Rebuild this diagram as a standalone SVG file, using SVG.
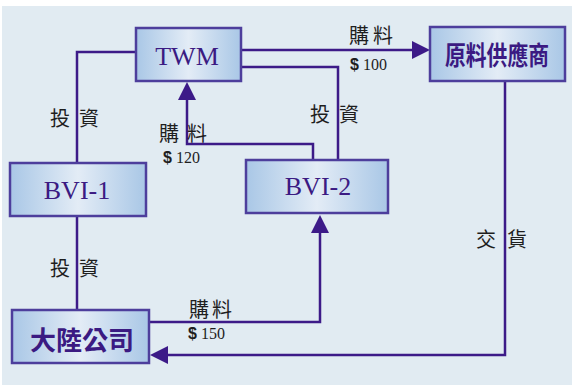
<svg xmlns="http://www.w3.org/2000/svg" width="574" height="386" viewBox="0 0 574 386">
<defs>
<linearGradient id="boxfill" x1="0" y1="0" x2="1" y2="0">
<stop offset="0" stop-color="#a9c7e6"/>
<stop offset="0.5" stop-color="#e3ecf6"/>
<stop offset="1" stop-color="#a9c7e6"/>
</linearGradient>
<marker id="arr" viewBox="0 0 18 18" refX="8" refY="9" markerWidth="18" markerHeight="18" markerUnits="userSpaceOnUse" orient="auto">
<path d="M0,0 L18,9 L0,18 z" fill="#3c1a88"/>
</marker>
<style>
.box{fill:url(#boxfill);stroke:#4d3e9c;stroke-width:2.5}
.en{font-family:"Liberation Serif",serif;font-size:26px;fill:#3b1a82;text-anchor:middle}
.zh{font-family:"Noto Sans CJK TC","Noto Sans CJK SC",sans-serif;font-size:26px;font-weight:bold;fill:#3b1a82;text-anchor:middle}
.lbl{font-family:"Noto Sans CJK TC","Noto Sans CJK SC",sans-serif;font-size:20px;fill:#1e1e1e}
.num{font-family:"Liberation Serif",serif;font-size:16px;fill:#1e1e1e}
.dol{font-family:"Liberation Sans",sans-serif;font-weight:bold}
.ln{fill:none;stroke:#3c1a88;stroke-width:2.5}
</style>
</defs>
<rect x="2" y="6" width="570" height="379" fill="#e1ebf2"/>
<g id="connectors">
<path class="ln" d="M136,52 H77 V163"/>
<path class="ln" d="M77,216 V310"/>
<path class="ln" d="M241,50 H420" marker-end="url(#arr)"/>
<path class="ln" d="M313,160 V144 H187 V92" marker-end="url(#arr)"/>
<path class="ln" d="M241,67 H338 V160"/>
<path class="ln" d="M505,81 V355 H160" marker-end="url(#arr)"/>
<path class="ln" d="M149,322 H320 V225" marker-end="url(#arr)"/>
<text class="lbl" x="50 79" y="126">投資</text>
<text class="lbl" x="50 79" y="276">投資</text>
<text class="lbl" x="310 339" y="122">投資</text>
<text class="lbl" x="476 507" y="247">交貨</text>
<text class="lbl" x="159 187" y="141">購料</text>
<text class="num" x="163" y="163"><tspan class="dol">$</tspan> 120</text>
<text class="lbl" x="349 373" y="43">購料</text>
<text class="num" x="350" y="70"><tspan class="dol">$</tspan> 100</text>
<text class="lbl" x="189 212" y="317">購料</text>
<text class="num" x="188" y="339"><tspan class="dol">$</tspan> 150</text>
</g>
<g id="TWM">
<rect class="box" x="136" y="28" width="105" height="53"/>
<text class="en" x="187" y="65">TWM</text>
</g>
<g id="supplier">
<rect class="box" x="430" y="27" width="135" height="54"/>
<text class="zh" transform="translate(497,65) scale(0.8,1)" x="0" y="0">原料供應商</text>
</g>
<g id="BVI-1">
<rect class="box" x="10" y="163" width="136" height="53"/>
<text class="en" x="77" y="199">BVI-1</text>
</g>
<g id="BVI-2">
<rect class="box" x="246" y="160" width="142" height="53"/>
<text class="en" x="318" y="195">BVI-2</text>
</g>
<g id="mainland">
<rect class="box" x="12" y="310" width="137" height="53"/>
<text class="zh" x="82" y="350">大陸公司</text>
</g>
</svg>
